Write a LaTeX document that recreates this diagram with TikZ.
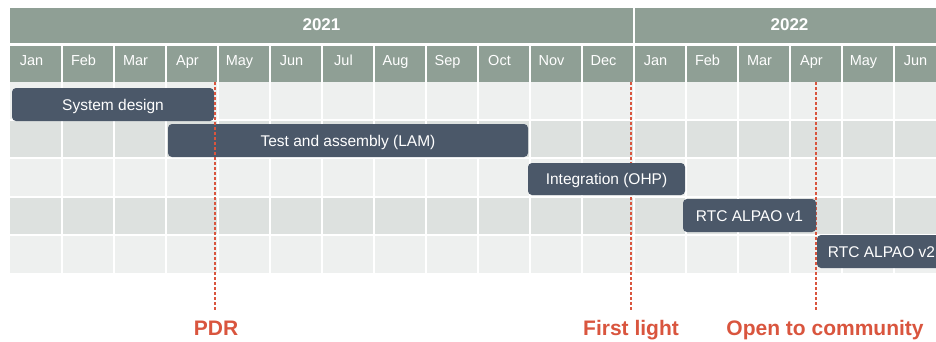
\documentclass[tikz,border=0pt]{standalone}
\usepackage{fontspec}
\setmainfont{Liberation Sans}
\definecolor{hdrc}{HTML}{8F9F95}
\definecolor{barc}{HTML}{4B5869}
\definecolor{rowa}{HTML}{EEF0EF}
\definecolor{rowb}{HTML}{DDE1DF}
\definecolor{redc}{HTML}{D9553E}
\tikzset{
  bar/.style={fill=barc, rounded corners=4pt, inner sep=0pt, text=white,
    text height=11.1pt, text depth=0pt,
    font=\fontsize{15.5}{18}\selectfont},
  monthtxt/.style={text=white, inner sep=0pt, text height=10.4pt, text depth=0pt,
    font=\fontsize{14.5}{17}\selectfont},
  yeartxt/.style={text=white, inner sep=0pt, text height=12.2pt, text depth=0pt,
    font=\fontsize{17}{20}\selectfont\bfseries},
  milestone/.style={draw=redc, line width=1.5pt, dash pattern=on 3pt off 2pt},
  mstxt/.style={text=redc, inner sep=0pt, text height=15pt, text depth=0pt,
    font=\fontsize{21}{25}\selectfont\bfseries},
  gridline/.style={draw=white, line width=2pt}
}
\begin{document}
\begin{tikzpicture}[x=1pt,y=-1pt]
\useasboundingbox (0,0) rectangle (936,341);
\clip (0,0) rectangle (936,341);
% header bands
\fill[hdrc] (10,8) rectangle (946,43);
\fill[hdrc] (10,46) rectangle (946,82);
\draw[gridline] (634,8) -- (634,43);
\foreach \i in {1,...,17} {
  \draw[gridline] ({10+52*\i},46) -- ({10+52*\i},82);
}
\node[yeartxt] (y2021) at (321.5,24) {2021};
\node[yeartxt] (y2022) at (789.5,24) {2022};
\foreach \m [count=\i from 0] in {Jan,Feb,Mar,Apr,May,Jun,Jul,Aug,Sep,Oct,Nov,Dec,Jan,Feb,Mar,Apr,May,Jun} {
  \node[monthtxt] (m\i) at ({10+52*\i+21.5},60) {\m};
}
% rows
\foreach \r in {0,...,4} {
  \pgfmathsetmacro{\ya}{82+38.2*\r}
  \pgfmathsetmacro{\yb}{82+38.2*(\r+1)}
  \pgfmathtruncatemacro{\odd}{mod(\r,2)}
  \ifnum\odd=0
    \fill[rowa] (10,\ya) rectangle (946,\yb);
  \else
    \fill[rowb] (10,\ya) rectangle (946,\yb);
  \fi
}
\foreach \r in {1,...,4} {
  \draw[gridline] (10,{82+38.2*\r}) -- (946,{82+38.2*\r});
}
\foreach \i in {1,...,17} {
  \draw[gridline] ({10+52*\i},82) -- ({10+52*\i},273);
}
% milestone coordinates and labels
\coordinate (pdrtop) at (215,82);
\coordinate (pdrbot) at (215,310);
\coordinate (fltop) at (631,82);
\coordinate (flbot) at (631,310);
\coordinate (octop) at (816,82);
\coordinate (ocbot) at (816,310);
\node[mstxt] (pdr) at (216,328) {PDR};
\node[mstxt] (fl) at (631,328) {First light};
\node[mstxt] (oc) at (825,328) {Open to community};
\draw[milestone] (fltop) -- (flbot);
\draw[milestone] (octop) -- (ocbot);
% bars
\node[bar, minimum width=202pt, minimum height=33pt] (sd) at (113,104.5) {System design};
\node[bar, minimum width=360pt, minimum height=33pt] (ta) at (348,140.5) {Test and assembly (LAM)};
\node[bar, minimum width=157pt, minimum height=32pt] (int) at (606.5,179) {Integration (OHP)};
\node[bar, minimum width=133pt, minimum height=33pt] (v1) at (749.5,215.5) {RTC ALPAO v1};
\node[bar, minimum width=129pt, minimum height=33pt] (v2) at (881.5,251.5) {RTC ALPAO v2};
\draw[milestone] (pdrtop) -- (pdrbot);
\end{tikzpicture}
\end{document}
